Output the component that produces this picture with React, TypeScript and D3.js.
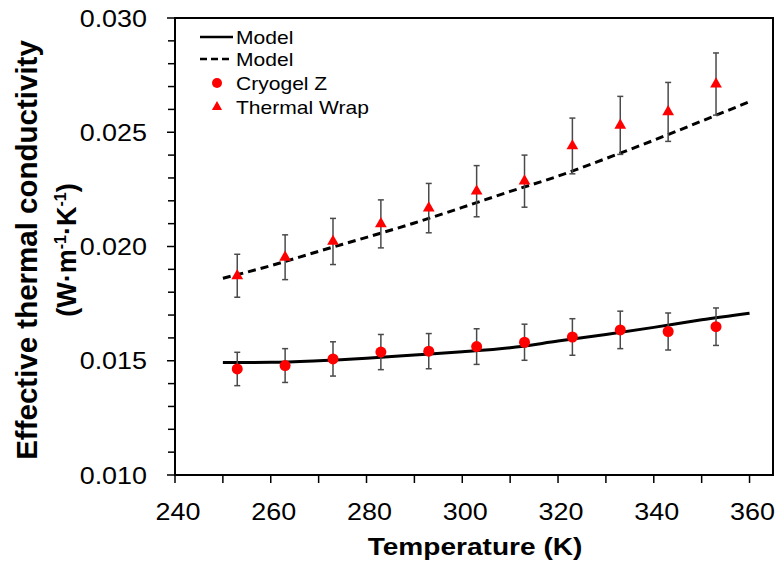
import React from "react";
import * as d3 from "d3";

const temps = [253, 263, 273, 283, 293, 303, 313, 323, 333, 343, 353];
const cryogelZ = [0.01464, 0.01479, 0.01508, 0.01538, 0.01542, 0.01562, 0.01581, 0.01604, 0.01635, 0.01628, 0.01649];
const cryogelErr = [0.00073, 0.00074, 0.00075, 0.00077, 0.00077, 0.00078, 0.00079, 0.0008, 0.00082, 0.00081, 0.00082];
const thermalWrap = [0.01872, 0.01953, 0.02022, 0.02099, 0.02168, 0.02242, 0.02286, 0.0244, 0.0253, 0.02589, 0.02711];
const thermalErr = [0.00094, 0.00098, 0.00101, 0.00105, 0.00108, 0.00112, 0.00114, 0.00122, 0.00127, 0.00129, 0.00136];
const modelT = [250, 260, 270, 280, 290, 300, 310, 320, 330, 340, 350, 360];
const modelCryogel = [0.01492, 0.01493, 0.015, 0.01511, 0.01525, 0.01539, 0.01557, 0.01586, 0.01615, 0.01646, 0.01679, 0.01708];
const modelWrap = [0.01861, 0.01916, 0.01979, 0.0204, 0.02103, 0.02171, 0.02241, 0.02308, 0.02385, 0.02465, 0.02549, 0.02634];
const xTicks = [240, 260, 280, 300, 320, 340, 360];
const xMinor = [250, 270, 290, 310, 330, 350];
const yTicks = [0.01, 0.015, 0.02, 0.025, 0.03];
const legendLabels = ["Model", "Model", "Cryogel Z", "Thermal Wrap"];

const SX = 1.17;
const FONT = "Liberation Sans, Arial, sans-serif";

function T({ x, y, size, anchor = "start", bold = false, children }: any) {
  return (
    <g transform={`translate(${x},${y}) scale(${SX},1)`}>
      <text
        fontFamily={FONT}
        fontSize={size}
        fontWeight={bold ? "bold" : "normal"}
        textAnchor={anchor}
        fill="#000"
      >
        {children}
      </text>
    </g>
  );
}

export default function App() {
  const W = 778, H = 564;
  const left = 175, right = 773, top = 18, bottom = 475;
  const x = d3.scaleLinear().domain([240, 364.9]).range([left, right]);
  const y = d3.scaleLinear().domain([0.01, 0.03]).range([bottom, top]);
  const yMinor = d3.range(0.01, 0.0301, 0.001).filter((v) => Math.abs(Math.round(v * 200) - v * 200) > 1e-6);

  const line = d3
    .line<number>()
    .x((_, i) => x(modelT[i]))
    .y((d) => y(d))
    .curve(d3.curveMonotoneX);

  const tri = d3.symbol().type(d3.symbolTriangle).size(60)();
  const errColor = "#4a4a4a";

  return (
    <svg width={W} height={H} style={{ position: "absolute", left: 0, top: 0, background: "#fff" }}>
      <rect x={0} y={0} width={W} height={H} fill="#fff" />
      {/* frame */}
      <rect x={left} y={top} width={right - left} height={bottom - top} fill="none" stroke="#000" strokeWidth={2} />
      {/* y ticks */}
      {yTicks.map((v) => (
        <g key={"yt" + v}>
          <line x1={left - 8} x2={left} y1={y(v)} y2={y(v)} stroke="#000" strokeWidth={1.5} />
          <T x={147} y={y(v) + 8.5} size={23} anchor="end">
            {d3.format(".3f")(v)}
          </T>
        </g>
      ))}
      {yMinor.map((v) => (
        <line key={"ym" + v} x1={left - 7} x2={left} y1={y(v)} y2={y(v)} stroke="#000" strokeWidth={1.5} />
      ))}
      {/* x ticks */}
      {xTicks.map((v) => (
        <g key={"xt" + v}>
          <line x1={x(v)} x2={x(v)} y1={bottom} y2={bottom + 8} stroke="#000" strokeWidth={1.5} />
          <T x={x(v) + 3} y={520} size={23} anchor="middle">
            {v}
          </T>
        </g>
      ))}
      {xMinor.map((v) => (
        <line key={"xm" + v} x1={x(v)} x2={x(v)} y1={bottom} y2={bottom + 8} stroke="#000" strokeWidth={1.5} />
      ))}
      {/* axis titles */}
      <T x={475} y={555} size={24} anchor="middle" bold>
        Temperature (K)
      </T>
      <g transform="translate(37,250) rotate(-90)">
        <text fontFamily={FONT} fontSize={29.5} fontWeight="bold" textAnchor="middle">
          Effective thermal conductivity
        </text>
      </g>
      <g transform="translate(76,250) rotate(-90)">
        <text fontFamily={FONT} fontSize={27} fontWeight="bold" textAnchor="middle">
          (W·m<tspan fontSize={16} dy={-10}>-1</tspan>
          <tspan dy={10}>·K</tspan>
          <tspan fontSize={16} dy={-10}>-1</tspan>
          <tspan dy={10}>)</tspan>
        </text>
      </g>
      {/* model lines */}
      <path d={line(modelCryogel) || ""} fill="none" stroke="#000" strokeWidth={3} />
      <path d={line(modelWrap) || ""} fill="none" stroke="#000" strokeWidth={3} strokeDasharray="8,5" />
      {/* error bars */}
      {temps.map((t, i) => (
        <g key={"e" + t} stroke={errColor} strokeWidth={1.5}>
          <line x1={x(t)} x2={x(t)} y1={y(cryogelZ[i] - cryogelErr[i])} y2={y(cryogelZ[i] + cryogelErr[i])} />
          <line x1={x(t) - 3} x2={x(t) + 3} y1={y(cryogelZ[i] - cryogelErr[i])} y2={y(cryogelZ[i] - cryogelErr[i])} />
          <line x1={x(t) - 3} x2={x(t) + 3} y1={y(cryogelZ[i] + cryogelErr[i])} y2={y(cryogelZ[i] + cryogelErr[i])} />
          <line x1={x(t)} x2={x(t)} y1={y(thermalWrap[i] - thermalErr[i])} y2={y(thermalWrap[i] + thermalErr[i])} />
          <line x1={x(t) - 3} x2={x(t) + 3} y1={y(thermalWrap[i] - thermalErr[i])} y2={y(thermalWrap[i] - thermalErr[i])} />
          <line x1={x(t) - 3} x2={x(t) + 3} y1={y(thermalWrap[i] + thermalErr[i])} y2={y(thermalWrap[i] + thermalErr[i])} />
        </g>
      ))}
      {/* markers */}
      {temps.map((t, i) => (
        <g key={"m" + t}>
          <circle cx={x(t)} cy={y(cryogelZ[i])} r={5.5} fill="#ff0000" />
          <path d={tri || ""} transform={`translate(${x(t)},${y(thermalWrap[i])})`} fill="#ff0000" />
        </g>
      ))}
      {/* legend */}
      <line x1={200} x2={233} y1={37} y2={37} stroke="#000" strokeWidth={2.5} />
      <line x1={200} x2={233} y1={59} y2={59} stroke="#000" strokeWidth={2.5} strokeDasharray="7,4" />
      <circle cx={217} cy={83} r={5} fill="#ff0000" />
      <path d={d3.symbol().type(d3.symbolTriangle).size(45)() || ""} transform="translate(217,107)" fill="#ff0000" />
      {legendLabels.map((l, i) => (
        <T key={"l" + i} x={236} y={[44, 66, 90, 114][i]} size={18}>
          {l}
        </T>
      ))}
    </svg>
  );
}
